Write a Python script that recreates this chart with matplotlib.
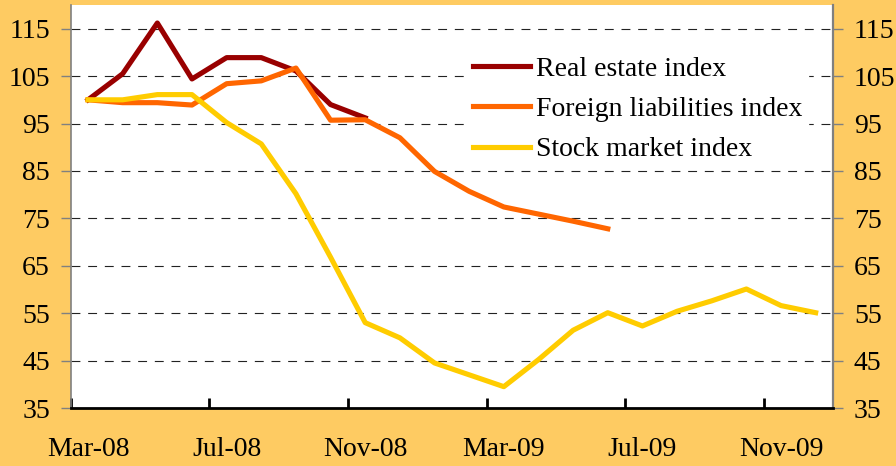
import numpy as np
import matplotlib
matplotlib.use("Agg")
import matplotlib.pyplot as plt

plt.rcParams['font.family'] = ['Liberation Serif', 'DejaVu Serif']

#########################################################
# data (monthly, Mar-08 .. Dec-09)
#########################################################
months = ["Mar-08", "Apr-08", "May-08", "Jun-08", "Jul-08", "Aug-08", "Sep-08",
          "Oct-08", "Nov-08", "Dec-08", "Jan-09", "Feb-09", "Mar-09", "Apr-09",
          "May-09", "Jun-09", "Jul-09", "Aug-09", "Sep-09", "Oct-09", "Nov-09",
          "Dec-09"]
real_estate = [100.0, 105.5, 116.2, 104.4, 108.9, 108.9, 106.1, 99.0, 96.2]
foreign_liab = [100.0, 99.4, 99.4, 98.9, 103.4, 104.0, 106.7, 95.7, 95.8,
                92.0, 84.9, 80.7, 77.4, 75.9, 74.4, 72.8]
stock_market = [100.0, 100.0, 101.1, 101.1, 95.2, 90.7, 80.2, 66.8, 53.0,
                49.8, 44.5, 42.0, 39.5, 45.2, 51.4, 55.1, 52.3, 55.4, 57.6,
                60.1, 56.6, 55.1]
y_ticks = [35, 45, 55, 65, 75, 85, 95, 105, 115]
label_every = 4

#########################################################
# plot
#########################################################
bg = "#FECB62"
fs = 20
fig = plt.figure(figsize=(8.96, 4.66), dpi=100, facecolor=bg)
ax = fig.add_axes([70.7/896, 1-408/466, (833-70.7)/896, (408-5)/466])
ax.set_facecolor("white")

ax.plot(range(len(real_estate)), real_estate, color="#990000", lw=3.7,
        label="Real estate index")
ax.plot(range(len(foreign_liab)), foreign_liab, color="#FF6600", lw=3.7,
        label="Foreign liabilities index")
ax.plot(range(len(stock_market)), stock_market, color="#FFCC00", lw=3.7,
        label="Stock market index")

n = len(months)
ax.set_xlim(-0.5, n - 0.5)
ax.set_ylim(35, 120)

# category axis: ticks between categories, labels in the middle
ax.set_xticks(np.arange(-0.5, n - 0.5, label_every))
ax.set_xticklabels([])
ax.set_xticks(np.arange(0, n, label_every), minor=True)
ax.set_xticklabels(months[::label_every], minor=True)
ax.tick_params(axis="x", which="major", direction="in", length=7, width=2,
               color="black")
ax.tick_params(axis="x", which="minor", length=0, pad=21, labelsize=fs)

ax.set_yticks(y_ticks)
ax.tick_params(axis="y", direction="out", length=7, width=1, color="#808080",
               left=True, right=True, labelleft=True, labelright=True,
               labelsize=fs, pad=8)

for v in y_ticks[1:]:
    ax.axhline(v, color="#222222", lw=0.8, ls=(0, (8, 7)), zorder=0.5)

ax.spines["top"].set_visible(False)
ax.spines["left"].set_color("#808080")
ax.spines["left"].set_linewidth(1.2)
ax.spines["right"].set_color("#808080")
ax.spines["right"].set_linewidth(1.6)
ax.spines["bottom"].set_color("black")
ax.spines["bottom"].set_linewidth(2)

leg = ax.legend(loc="upper left", bbox_to_anchor=(467/896, 1-51/466),
                bbox_transform=fig.transFigure, borderaxespad=0,
                borderpad=0.2, fontsize=fs, handlelength=2.05,
                handletextpad=0.22, labelspacing=0.53, frameon=True,
                fancybox=False)
leg.get_frame().set_facecolor("white")
leg.get_frame().set_edgecolor("white")
leg.get_frame().set_alpha(1)

plt.savefig("out.png", dpi=100, facecolor=bg)
